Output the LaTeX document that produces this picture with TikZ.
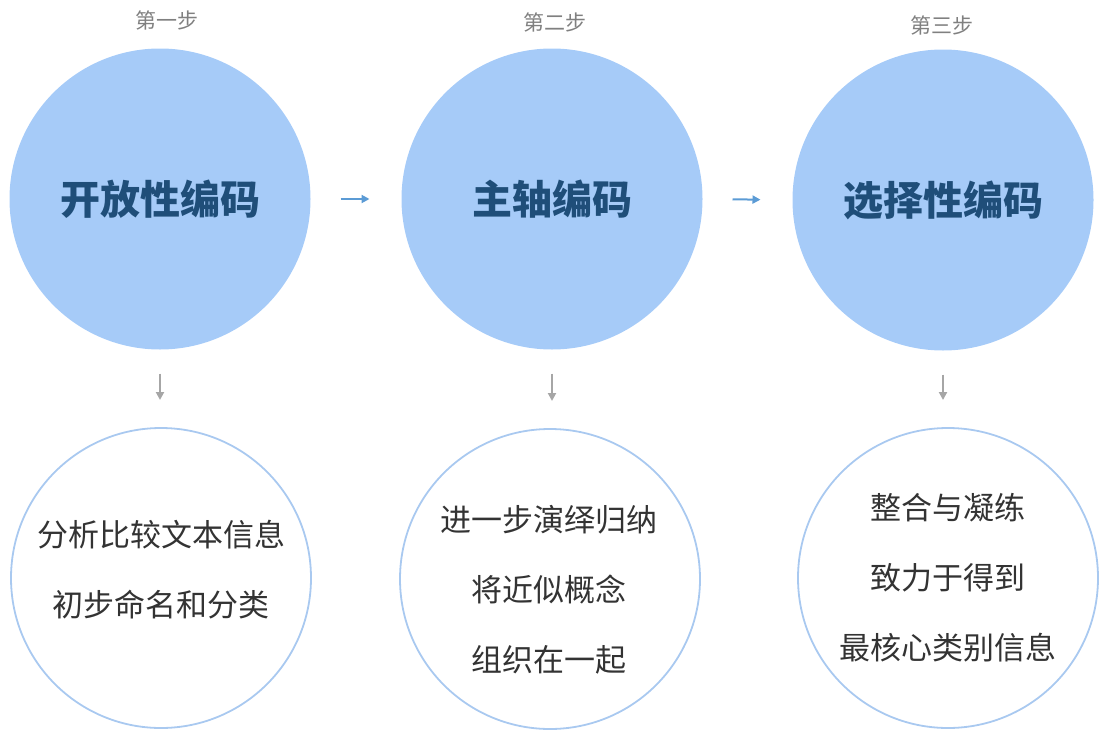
\documentclass[tikz,border=0pt]{standalone}
\usepackage{fontspec}
\setmainfont{Noto Sans CJK SC}
\newfontfamily\heavyfont{Noto Sans CJK SC Black}
\usepackage{xcolor}
\usepackage{tikz}
\usetikzlibrary{arrows.meta,positioning}
\definecolor{corefill}{HTML}{A6CBF8}
\definecolor{coretext}{HTML}{1F4E79}
\definecolor{noteline}{HTML}{A9C9F0}
\definecolor{notetext}{HTML}{333333}
\definecolor{steptext}{HTML}{808080}
\definecolor{flowblue}{HTML}{5B9BD5}
\definecolor{downgray}{HTML}{A6A6A6}
\newcommand{\tf}{\fontsize{40}{48}\selectfont}
\newcommand{\nf}{\fontsize{31}{70}\selectfont}
\newcommand{\stf}{\fontsize{21}{24}\selectfont}

\begin{document}
\begin{tikzpicture}[x=1pt, y=-1pt, every node/.style={inner sep=0pt, outer sep=0pt},
  core/.style={circle, fill=corefill, minimum size=301pt, font=\tf\heavyfont, text=coretext},
  note/.style={circle, draw=noteline, line width=1.8pt, minimum size=300pt},
  notetxt/.style={font=\nf, text=notetext, align=center},
  steplab/.style={font=\stf, text=steptext},
  flow/.style={flowblue, line width=2pt, -{Triangle[length=8pt,width=8pt]}, shorten <=30pt, shorten >=32pt},
  down/.style={downgray, line width=2pt, -{Triangle[length=8pt,width=8pt]}, shorten <=24pt, shorten >=28pt}]
\useasboundingbox (0,0) rectangle (1111,736);
% ---- step labels
\node[steplab] (lab1) at (167,20) {第一步};
\node[steplab] (lab2) at (555,22) {第二步};
\node[steplab] (lab3) at (942,25) {第三步};
% ---- top row: coding stages
\node[core] (core1) at (160,199) {开放性编码};
\node[core] (core2) at (552,199) {主轴编码};
\node[core] (core3) at (943,200) {选择性编码};
% ---- bottom row: what each stage does
\node[note] (note1) at (161,578) {};
\node[note] (note2) at (550,579) {};
\node[note] (note3) at (948,578) {};
\node[notetxt] (txt1) at (161,570) {分析比较文本信息\\初步命名和分类};
\node[notetxt] (txt2) at (549,590) {进一步演绎归纳\\将近似概念\\组织在一起};
\node[notetxt] (txt3) at (948,578) {整合与凝练\\致力于得到\\最核心类别信息};
% ---- connectors
\draw[flow] (core1.east) -- (core2.west);
\draw[flow] (core2.east) -- (core3.west);
\draw[down] (core1.south) -- (core1.south |- note1.north);
\draw[down] (core2.south) -- (core2.south |- note2.north);
\draw[down] (core3.south) -- (core3.south |- note3.north);
\end{tikzpicture}
\end{document}
